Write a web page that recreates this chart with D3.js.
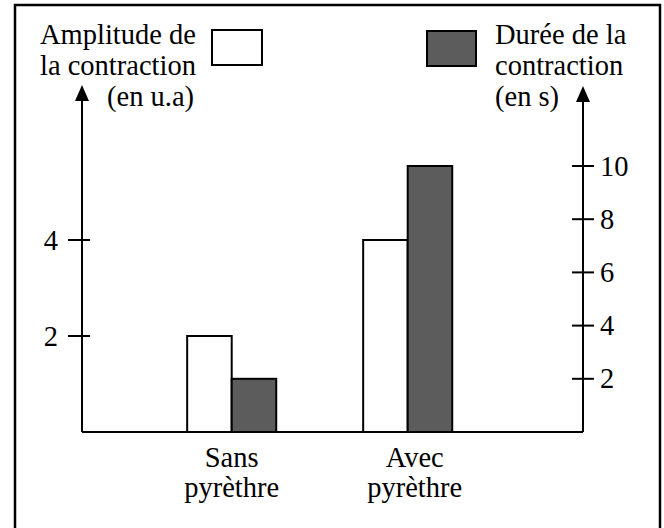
<!DOCTYPE html>
<html>
<head>
<meta charset="utf-8">
<script src="https://cdn.jsdelivr.net/npm/d3@7"></script>
<style>
  html, body { margin: 0; padding: 0; background: #fff; }
  svg { display: block; }
</style>
</head>
<body>
<svg id="chart" width="664" height="528"></svg>
<script>
// ---- data ----
const categories = [["Sans", "pyrèthre"], ["Avec", "pyrèthre"]];
const amplitude = [2, 4];      // en u.a (left axis)
const duree = [2, 10];         // en s (right axis)
const leftTicks = [2, 4];
const rightTicks = [2, 4, 6, 8, 10];
const leftTitle = ["Amplitude de", "la contraction", "(en u.a)"];
const rightTitle = ["Durée de la", "contraction", "(en s)"];

const FONT = "'Liberation Serif', 'Times New Roman', 'DejaVu Serif', serif";
const svg = d3.select("#chart").attr("font-family", FONT);
const FS = 28.5;
const axisY = 432, axisLX = 82, axisRX = 583;

function txt(g, x, y, s) {
  return g.append("text").attr("x", x).attr("y", y).attr("font-size", FS)
    .attr("font-family", FONT).attr("fill", "#000").text(s);
}

// frame
svg.append("rect").attr("x", 15).attr("y", 5).attr("width", 645).attr("height", 540)
  .attr("fill", "none").attr("stroke", "#000").attr("stroke-width", 2.5);

const yL = d3.scaleLinear().domain([0, 4]).range([axisY, 240]);
const yR = d3.scaleLinear().domain([0, 10]).range([axisY, 166]);
const catKeys = categories.map(c => c.join(" "));
const x0 = d3.scaleBand().domain(catKeys).range([143.7, 495.7]).paddingInner(0.494).paddingOuter(0.247);
const x1 = d3.scaleBand().domain(["amp", "dur"]).range([0, x0.bandwidth()]);

// bars
const rows = catKeys.map((k, i) => ({ k, amp: amplitude[i], dur: duree[i] }));
rows.forEach(r => {
  svg.append("rect")
    .attr("x", x0(r.k) + x1("amp")).attr("width", x1.bandwidth())
    .attr("y", yL(r.amp)).attr("height", axisY - yL(r.amp))
    .attr("fill", "#fff").attr("stroke", "#000").attr("stroke-width", 2);
  svg.append("rect")
    .attr("x", x0(r.k) + x1("dur")).attr("width", x1.bandwidth())
    .attr("y", yR(r.dur)).attr("height", axisY - yR(r.dur))
    .attr("fill", "#5c5c5c").attr("stroke", "#000").attr("stroke-width", 2);
});

// axes lines
svg.append("line").attr("x1", axisLX).attr("x2", axisRX).attr("y1", axisY).attr("y2", axisY)
  .attr("stroke", "#000").attr("stroke-width", 2);
svg.append("line").attr("x1", axisLX).attr("x2", axisLX).attr("y1", axisY).attr("y2", 98)
  .attr("stroke", "#000").attr("stroke-width", 2);
svg.append("line").attr("x1", axisRX).attr("x2", axisRX).attr("y1", axisY).attr("y2", 98)
  .attr("stroke", "#000").attr("stroke-width", 2);
// arrowheads
[[axisLX, 85], [axisRX, 86]].forEach(([ax, ty]) => {
  svg.append("path").attr("d", `M${ax},${ty} L${ax - 7},${ty + 16} L${ax + 7},${ty + 16} Z`).attr("fill", "#000");
});

// left ticks
const gL = svg.append("g");
leftTicks.forEach(t => {
  gL.append("line").attr("x1", 68).attr("x2", 90).attr("y1", yL(t)).attr("y2", yL(t))
    .attr("stroke", "#000").attr("stroke-width", 2);
  txt(gL, 58, yL(t), t).attr("dy", "0.34em").attr("text-anchor", "end");
});
// right ticks
const gR = svg.append("g");
rightTicks.forEach(t => {
  gR.append("line").attr("x1", 572).attr("x2", 594).attr("y1", yR(t)).attr("y2", yR(t))
    .attr("stroke", "#000").attr("stroke-width", 2);
  txt(gR, 600, yR(t), t).attr("dy", "0.34em").attr("text-anchor", "start");
});

// category labels
categories.forEach((c, i) => {
  const cx = x0(catKeys[i]) + x0.bandwidth() / 2 + (i === 1 ? 7 : 0);
  c.forEach((line, j) => {
    txt(svg, cx, 467 + j * 30, line).attr("text-anchor", "middle");
  });
});

// titles
const ltx = [40, 40, 107];
leftTitle.forEach((s, j) => txt(svg, ltx[j], 44 + j * 31, s));
rightTitle.forEach((s, j) => txt(svg, 495, 44 + j * 31, s));

// legend boxes
svg.append("rect").attr("x", 212).attr("y", 30).attr("width", 50).attr("height", 35)
  .attr("fill", "#fff").attr("stroke", "#000").attr("stroke-width", 2);
svg.append("rect").attr("x", 427).attr("y", 31).attr("width", 49).attr("height", 35)
  .attr("fill", "#5c5c5c").attr("stroke", "#000").attr("stroke-width", 2);
</script>
</body>
</html>
